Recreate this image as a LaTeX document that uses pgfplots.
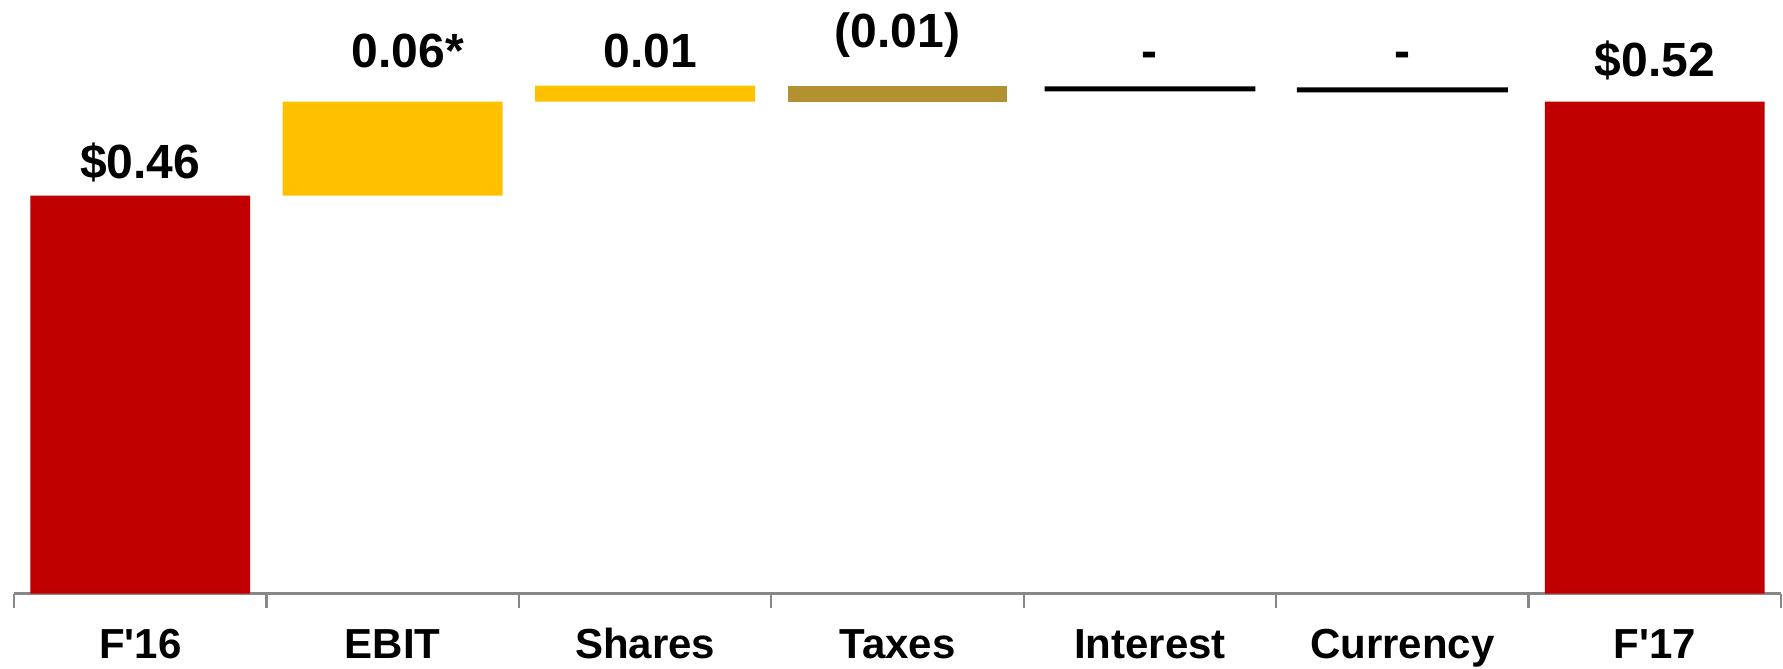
\documentclass[border=0pt]{standalone}
\usepackage{pgfplots}
\pgfplotsset{compat=1.18}
\usepackage{fontspec}
\setmainfont{Liberation Sans}
\definecolor{cred}{HTML}{C00000}
\definecolor{cyel}{HTML}{FFC000}
\definecolor{ctax}{HTML}{B29130}
\definecolor{cgray}{HTML}{878787}
\begin{document}
\begin{tikzpicture}[lab/.style={font=\fontsize{24}{28}\selectfont\bfseries, anchor=base, inner sep=0pt}]
\begin{axis}[
  at={(0,0)}, anchor=south west,
  scale only axis, width=883.5pt, height=296.8pt,
  xmin=-0.5, xmax=6.5, ymin=0, ymax=0.686,
  enlargelimits=false, clip=false,
  ybar stacked, bar width=0.871,
  axis x line*=bottom, hide y axis,
  x axis line style={draw=cgray, line width=1.2pt},
  xtick={0,...,6},
  xticklabels={F\textquotesingle16,EBIT,Shares,Taxes,Interest,Currency,F\textquotesingle17},
  major tick length=0pt,
  minor xtick={-0.5,0.5,...,6.5},
  minor tick length=7pt,
  tick align=outside,
  every minor tick/.append style={draw=cgray, line width=1.1pt},
  xticklabel style={font=\fontsize{21}{24}\selectfont\bfseries, anchor=base, yshift=-32.7pt},
]
\addplot[draw=none, fill=none] coordinates {(0,0) (1,0.46) (2,0.5685) (3,0.5685) (4,0.5805) (5,0.5793) (6,0)};
\addplot[draw=none, fill=cred] coordinates {(0,0.46) (1,0) (2,0) (3,0) (4,0) (5,0) (6,0.5685)};
\addplot[draw=none, fill=cyel] coordinates {(0,0) (1,0.1085) (2,0.0185) (3,0) (4,0) (5,0) (6,0)};
\addplot[draw=none, fill=ctax] coordinates {(0,0) (1,0) (2,0) (3,0.0185) (4,0) (5,0) (6,0)};
\addplot[draw=none, fill=black, bar width=0.835] coordinates {(0,0) (1,0) (2,0) (3,0) (4,0.0058) (5,0.0058) (6,0)};
\node[lab] at (axis cs:0,0.480) {\$0.46};
\node[lab] at (axis cs:1.06,0.6075) {0.06*};
\node[lab] at (axis cs:2.02,0.6075) {0.01};
\node[lab] at (axis cs:3,0.6306) {(0.01)};
\node[lab] at (axis cs:4,0.6075) {-};
\node[lab] at (axis cs:5,0.6075) {-};
\node[lab] at (axis cs:6,0.598) {\$0.52};
\end{axis}
\pgfresetboundingbox
\useasboundingbox (-7pt,-37.7pt) rectangle (884.5pt,296.8pt);
\end{tikzpicture}
\end{document}
